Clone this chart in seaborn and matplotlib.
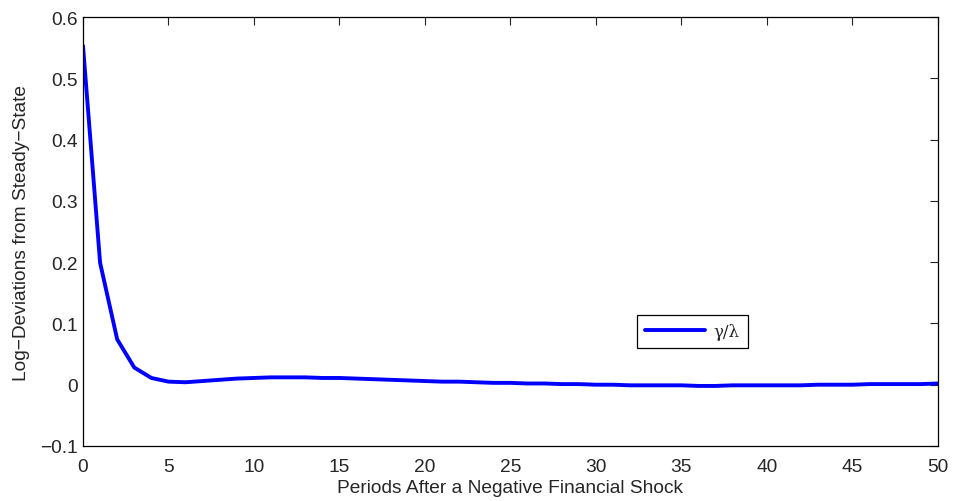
import pandas as pd
import matplotlib.pyplot as plt
import seaborn as sns

# Impulse response values
periods = list(range(51))
response = [0.553, 0.199, 0.074, 0.028, 0.011, 0.005, 0.004, 0.006, 0.008, 0.010,
            0.011, 0.012, 0.012, 0.012, 0.011, 0.011, 0.010, 0.009, 0.008, 0.007,
            0.006, 0.005, 0.005, 0.004, 0.003, 0.003, 0.002, 0.002, 0.001, 0.001,
            0.000, 0.000, -0.001, -0.001, -0.001, -0.001, -0.002, -0.002, -0.001, -0.001,
            -0.001, -0.001, -0.001, 0.000, 0.000, 0.000, 0.001, 0.001, 0.001, 0.001,
            0.002]
series_name = "γ/λ"

x_ticks = [0, 5, 10, 15, 20, 25, 30, 35, 40, 45, 50]
y_ticks = [-0.1, 0, 0.1, 0.2, 0.3, 0.4, 0.5, 0.6]
y_tick_labels = ["−0.1", "0", "0.1", "0.2", "0.3", "0.4", "0.5", "0.6"]

df = pd.DataFrame({"Period": periods, "Value": response, "Series": series_name})

sns.set_style("white")
plt.rcParams["font.family"] = ["Liberation Sans", "DejaVu Sans"]

fig = plt.figure(figsize=(9.54, 5.02), dpi=100)
ax = fig.add_axes([0.087, 0.1096, 0.896, 0.8544])

sns.lineplot(data=df, x="Period", y="Value", hue="Series",
             palette=["#0000ff"], linewidth=2.8, ax=ax)

ax.set_xlim(0, 50)
ax.set_ylim(-0.1, 0.6)
ax.set_xticks(x_ticks)
ax.set_yticks(y_ticks)
ax.set_yticklabels(y_tick_labels)
ax.tick_params(direction="in", top=True, right=True, length=6,
               width=0.8, labelsize=13.8, color="#222222")
ax.tick_params(axis="x", pad=8.5)
ax.tick_params(axis="y", pad=4)
for s in ax.spines.values():
    s.set_color("black")
    s.set_linewidth(0.9)

ax.set_xlabel("Periods After a Negative Financial Shock", fontsize=13.8, labelpad=3)
ax.set_ylabel("Log−Deviations from Steady−State", fontsize=13.8, labelpad=7)

leg = ax.legend(loc="lower left", bbox_to_anchor=(0.648, 0.228), borderaxespad=0,
                fancybox=False, framealpha=1, edgecolor="black",
                handlelength=3.6, handletextpad=0.5, borderpad=0.5,
                prop={"family": "DejaVu Serif", "size": 12})
leg.get_frame().set_linewidth(0.9)

plt.savefig("out.png", dpi=100)
